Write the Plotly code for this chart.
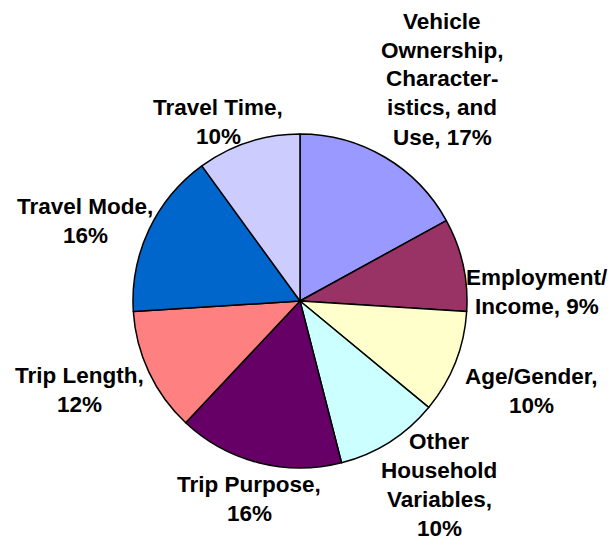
import plotly.graph_objects as go

# Data (clockwise from 12 o'clock)
categories = [
    "Vehicle Ownership, Characteristics, and Use",
    "Employment/Income",
    "Age/Gender",
    "Other Household Variables",
    "Trip Purpose",
    "Trip Length",
    "Travel Mode",
    "Travel Time",
]
values = [17, 9, 10, 10, 16, 12, 16, 10]
colors = ["#9999FF", "#993366", "#FFFFCC", "#CCFFFF",
          "#660066", "#FF8080", "#0066CC", "#CCCCFF"]

# Label text as displayed (line-wrapped), percentage appended from values
label_lines = [
    ["Vehicle", "Ownership,", "Character-", "istics, and", "Use,"],
    ["Employment/", "Income,"],
    ["Age/Gender,"],
    ["Other", "Household", "Variables,"],
    ["Trip Purpose,"],
    ["Trip Length,"],
    ["Travel Mode,"],
    ["Travel Time,"],
]
# Label placement on screen (pixel centre x, first-line centre y)
label_pos = [(442, 21), (537, 277), (531, 376), (439, 441),
             (249, 484), (79, 375), (85, 207), (218, 107)]

W, H = 611, 541
LINE = 29


def fx(px):
    return px / W


def fy(py):
    return 1 - py / H


fig = go.Figure(go.Pie(
    labels=categories,
    values=values,
    sort=False,
    direction="clockwise",
    rotation=0,
    marker=dict(colors=colors, line=dict(color="black", width=1.5)),
    textinfo="none",
    hoverinfo="label+percent",
    showlegend=False,
    domain=dict(x=[fx(133), fx(467)], y=[fy(468), fy(134)]),
))

annotations = []
for lines, v, (px, py) in zip(label_lines, values, label_pos):
    lines = list(lines)
    last = lines[-1]
    if last in ("Use,", "Income,"):
        lines[-1] = f"{last} {v}%"
    else:
        lines.append(f"{v}%")
    for i, t in enumerate(lines):
        annotations.append(dict(
            x=fx(px), y=fy(py + i * LINE), xref="paper", yref="paper",
            text=t, showarrow=False, xanchor="center", yanchor="middle",
            font=dict(family="Liberation Sans, Arial, sans-serif", size=22.5,
                      color="black", weight="bold"),
        ))

fig.update_layout(
    width=W, height=H,
    margin=dict(l=0, r=0, t=0, b=0),
    paper_bgcolor="white", plot_bgcolor="white",
    annotations=annotations,
)
fig.write_html(
    "out.html",
    config={"displayModeBar": False},
    post_script="document.body.style.margin='0';document.body.style.overflow='hidden';",
)
